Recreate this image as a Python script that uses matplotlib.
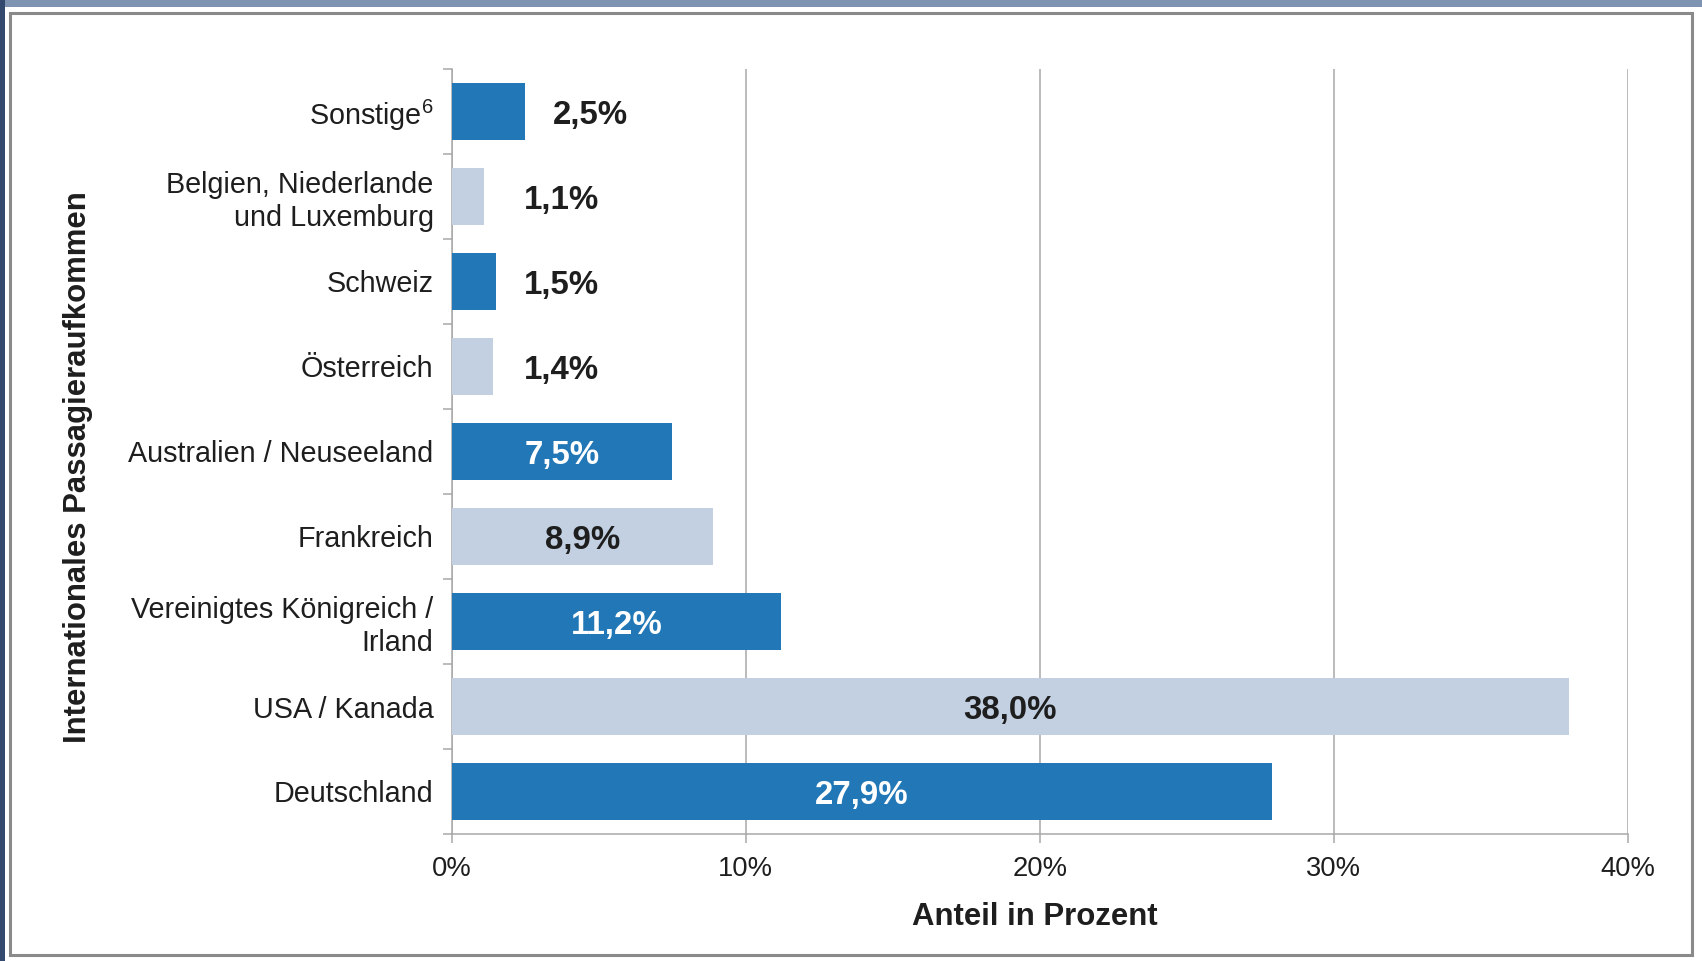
import matplotlib
matplotlib.use("Agg")
import matplotlib.pyplot as plt
from matplotlib.patches import Rectangle
from matplotlib.ticker import FixedLocator, FuncFormatter

plt.rcParams["font.family"] = ["Liberation Sans", "DejaVu Sans"]
plt.rcParams["mathtext.fontset"] = "custom"
plt.rcParams["mathtext.rm"] = "Liberation Sans"

# --- data (bottom to top) ---------------------------------------------------
categories = [
    "Deutschland",
    "USA / Kanada",
    "Vereinigtes Königreich /\nIrland",
    "Frankreich",
    "Australien / Neuseeland",
    "Österreich",
    "Schweiz",
    "Belgien, Niederlande\nund Luxemburg",
    r"Sonstige$^{\mathrm{6}}$",
]
shares = [27.9, 38.0, 11.2, 8.9, 7.5, 1.4, 1.5, 1.1, 2.5]
value_labels = ["27,9%", "38,0%", "11,2%", "8,9%", "7,5%", "1,4%", "1,5%", "1,1%", "2,5%"]
x_ticks = [0, 10, 20, 30, 40]

DARK = "#2277b6"
LIGHT = "#c2d0e1"
GRID = "#a8a8a8"
TXT = "#1e1e1e"

W, H = 1702, 961
fig = plt.figure(figsize=(W / 100, H / 100), dpi=100, facecolor="white")

# screenshot frame: bluish strips on top/left edge and a grey border
fig.patches.append(Rectangle((0, 1 - 7 / H), 1, 7 / H, transform=fig.transFigure,
                             facecolor="#7e92b2", edgecolor="none", zorder=0))
fig.patches.append(Rectangle((0, 0), 5 / W, 1, transform=fig.transFigure,
                             facecolor="#34496e", edgecolor="none", zorder=0))
fig.patches.append(Rectangle((10 / W, 1 - 955 / H), (1692 - 10) / W, (955 - 13) / H,
                             transform=fig.transFigure, facecolor="none",
                             edgecolor="#8a8a8a", linewidth=2.2, zorder=1))

ax = fig.add_axes([451.7 / W, 1 - 834 / H, (1627.7 - 451.7) / W, (834 - 69) / H])

ypos = list(range(len(categories)))
colors = [DARK if i % 2 == 0 else LIGHT for i in ypos]
ax.barh(ypos, shares, height=0.67, color=colors, zorder=3)

for y, v, lab, c in zip(ypos, shares, value_labels, colors):
    if v >= 5:
        ax.text(v / 2, y - 0.05, lab, ha="center", va="center", fontsize=23.8,
                fontweight="bold", color="white" if c == DARK else TXT, zorder=4)
    else:
        ax.text(max(v, 1.5) + 0.95, y - 0.05, lab, ha="left", va="center", fontsize=23.8,
                fontweight="bold", color=TXT, zorder=4)

ax.set_xlim(0, 40)
ax.set_ylim(-0.5, len(categories) - 0.5)

# x axis
ax.set_xticks(x_ticks)
ax.xaxis.set_major_formatter(FuncFormatter(lambda v, _: f"{v:.0f}%"))
ax.tick_params(axis="x", length=6.5, width=1.1, color=GRID, pad=9, labelsize=19.7,
               labelcolor=TXT)
ax.grid(axis="x", color=GRID, linewidth=1.1, zorder=0)

# y axis: labels centred, tick marks between categories
ax.set_yticks(ypos)
ax.set_yticklabels(categories, linespacing=1.22)
ax.yaxis.set_minor_locator(FixedLocator([i - 0.5 for i in range(len(categories) + 1)]))
ax.tick_params(axis="y", which="major", length=0, pad=13, labelsize=20.7, labelcolor=TXT)
ax.tick_params(axis="y", which="minor", length=6.5, width=1.1, color=GRID)

for s in ("top", "right"):
    ax.spines[s].set_visible(False)
for s in ("left", "bottom"):
    ax.spines[s].set_color(GRID)
    ax.spines[s].set_linewidth(1.1)

fig.text(1035 / W, 1 - 917 / H, "Anteil in Prozent", ha="center", va="center",
         fontsize=22.4, fontweight="bold", color=TXT)
fig.text(78 / W, 1 - 467 / H, "Internationales Passagieraufkommen", ha="center",
         va="center", rotation=90, fontsize=22.4, fontweight="bold", color=TXT)

fig.savefig("out.png", dpi=100, facecolor="white")
